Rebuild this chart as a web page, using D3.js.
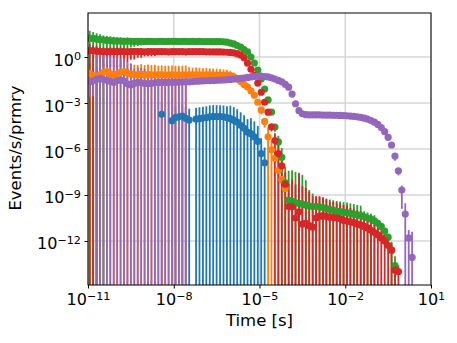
<!DOCTYPE html>
<html>
<head>
<meta charset="utf-8">
<script src="https://cdn.jsdelivr.net/npm/d3@7"></script>
<style>
  body { margin: 0; background: #fff; }
  svg { display: block; font-family: "DejaVu Sans", sans-serif; }
</style>
</head>
<body>
<svg id="chart" width="457" height="343"></svg>
<script>
(function () {

	// log10 of bin centre time [s]
	var timeExp = [
		-10.94,-10.82,-10.70,-10.58,-10.46,-10.34,-10.22,-10.10,-9.98,-9.86,
		-9.74,-9.62,-9.50,-9.38,-9.26,-9.14,-9.02,-8.90,-8.78,-8.66,
		-8.54,-8.42,-8.30,-8.18,-8.06,-7.94,-7.82,-7.70,-7.58,-7.46,
		-7.34,-7.22,-7.10,-6.98,-6.86,-6.74,-6.62,-6.50,-6.38,-6.26,
		-6.14,-6.02,-5.90,-5.78,-5.66,-5.54,-5.42,-5.30,-5.18,-5.06,
		-4.94,-4.82,-4.70,-4.58,-4.46,-4.34,-4.22,-4.10,-3.98,-3.86,
		-3.74,-3.62,-3.50,-3.38,-3.26,-3.14,-3.02,-2.90,-2.78,-2.66,
		-2.54,-2.42,-2.30,-2.18,-2.06,-1.94,-1.82,-1.70,-1.58,-1.46,
		-1.34,-1.22,-1.10,-0.98,-0.86,-0.74,-0.62,-0.50,-0.38,-0.26,
		-0.14,-0.02,0.10,0.22,0.34
	];

	// log10 of rate (events/s/primary), null = empty bin; err = relative error
	var blueStart = 21;
	var blueRate = [
		-3.74,null,null,-4.15,-3.95,-3.90,-3.85,-4.00,-4.11,null,
		-4.05,-4.02,-3.98,-3.95,-3.90,-3.88,-3.88,-3.88,-3.90,-3.95,
		-4.02,-4.12,-4.25,-4.45,-4.65,-4.90,-5.00,-5.20,-5.50,-6.30,
		-6.90
	];
	var blueErr = [
		5,null,null,4.5,4.5,4.5,4.5,4.5,4.5,null,
		4.5,4.5,4.5,4.5,4.5,4.5,4.5,4.5,4.5,4.5,
		6,6,6,6,6,6,9,9,9,9,
		9
	];

	var orangeStart = 0;
	var orangeRate = [
		-1.06,-1.20,-1.29,-1.15,-1.00,-0.96,-1.10,-1.20,-1.12,-1.00,
		-0.96,-1.05,-1.10,-1.15,-1.17,-1.12,-1.18,-1.15,-1.17,-1.16,
		-1.17,-1.15,-1.18,-1.17,-1.16,-1.17,-1.18,-1.17,-1.16,-1.17,
		-1.17,-1.16,-1.17,-1.18,-1.17,-1.17,-1.17,-1.18,-1.18,-1.19,
		-1.20,-1.22,-1.30,-1.42,-1.60,-1.80,-1.95,-2.20,-2.50,-2.95,
		-3.45,-4.20,-5.20,-6.05,-6.60,-7.40,-8.00,-8.57
	];
	// upper relative error
	var orangeErr = [
		3,3,3,3,3,3,3,3,3,3,
		3.5,3.5,3.5,3.5,3.5,3.5,3.5,3.5,3.5,3.5,
		3,3,3,3,3,3,3,3,3,2.2,
		2.0,2.0,1.9,1.8,1.8,1.7,1.6,1.6,1.5,1.4,
		1.3,1.1,0.9,0.7,0.5,0.5,0.5,0.5,0.5,0.5,
		0.5,0.6,3,3,0.5,0.5,0.5,0.5
	];
	// lower relative error
	var orangeErrLow = [
		3,3,3,3,3,3,3,3,3,3,
		3.5,3.5,3.5,3.5,3.5,3.5,3.5,3.5,3.5,3.5,
		3,3,3,3,3,3,3,3,3,0.3,
		0.3,0.3,0.3,0.3,0.3,0.3,0.3,0.3,0.3,0.3,
		0.3,0.3,0.3,0.3,0.3,0.3,0.3,0.3,0.3,0.3,
		0.5,0.6,3,3,0.5,0.5,0.5,0.5
	];

	var greenStart = 0;
	var greenRate = [
		1.24,1.21,1.17,1.14,1.11,1.09,1.07,1.05,1.04,1.03,
		1.02,1.03,1.02,1.01,1.02,1.02,1.01,1.02,1.02,1.01,
		1.02,1.02,1.01,1.02,1.02,1.02,1.01,1.02,1.02,1.01,
		1.02,1.01,1.02,1.01,1.01,1.01,1.00,1.00,1.00,0.99,
		0.97,0.91,0.85,0.75,0.65,0.49,0.33,0.00,-0.39,-0.85,
		-1.43,-2.09,-2.80,-3.59,-4.57,-5.54,-6.54,-8.20,-9.33,-9.39,
		-9.50,-9.55,-9.60,-9.65,-9.72,-9.75,-9.75,-9.78,-9.82,-9.88,
		-9.95,-10.00,-10.05,-10.08,-10.12,-10.15,-10.20,-10.25,-10.30,-10.35,
		-10.42,-10.50,-10.58,-10.68,-10.85,-11.05,-11.35,-11.75,-12.60,-13.60
	];
	var greenErr = [
		2.0,1.6,1.4,1.2,1.0,0.95,0.9,0.85,0.8,0.75,
		0.7,0.65,0.6,0.55,0.5,0.45,0.4,0.35,0.3,0.3,
		0.25,0.25,0.25,0.25,0.25,0.25,0.25,0.25,0.25,0.25,
		0.1,0.1,0.1,0.1,0.1,0.1,0.1,0.1,0.1,0.1,
		0.08,0.05,0.05,0.05,0.05,0.05,0.05,0.05,0.05,0.05,
		0.05,0.1,0.1,0.2,0.5,1.5,3,10,80,100,
		100,100,80,40,10,6,3.5,3.5,3.5,3.5,
		3.5,3.5,3.5,3.5,3.5,3.5,3.5,3.5,3.5,3.5,
		1.3,1.3,1.3,1.3,0.7,0.3,0.3,0.3,2.5,3
	];

	var redStart = 0;
	var redRate = [
		0.42,0.40,0.38,0.36,0.35,0.35,0.36,0.35,0.35,0.35,
		0.35,0.34,0.35,0.36,0.35,0.35,0.34,0.35,0.35,0.36,
		0.35,0.35,0.35,0.34,0.35,0.35,0.35,0.35,0.34,0.35,
		0.35,0.35,0.35,0.35,0.34,0.34,0.34,0.33,0.33,0.32,
		0.31,0.30,0.27,0.22,0.12,-0.05,-0.40,-0.80,-1.20,-1.70,
		-2.30,-2.95,-3.60,-4.55,-5.45,-6.30,-7.10,-8.30,-9.75,-9.77,
		-10.50,-10.10,-10.90,-10.85,-11.00,-11.10,-10.50,-10.40,-10.35,-10.40,
		-10.45,-10.45,-10.50,-10.55,-10.65,-10.70,-10.75,-10.80,-10.90,-10.95,
		-11.05,-11.15,-11.30,-11.45,-11.60,-11.80,-12.00,-12.30,-12.60,-13.90,
		-14.00
	];
	var redErr = [
		1.4,1.3,1.2,0.9,0.9,0.9,0.9,0.9,0.9,0.9,
		0.8,0.8,0.7,0.7,0.6,0.6,0.5,0.5,0.5,0.5,
		0.4,0.4,0.4,0.4,0.4,0.4,0.4,0.4,0.4,0.4,
		0.3,0.3,0.3,0.3,0.3,0.3,0.3,0.3,0.3,0.3,
		0.2,0.2,0.2,0.2,0.2,0.2,0.2,0.2,0.2,0.2,
		0.2,0.2,0.3,0.5,2,3,3,5,30,60,
		150,300,300,200,160,100,25,20,15,12,
		9,9,9,9,9,9,7,7,7,7,
		6,6,6,6,4,4,3,3,1.8,1.5,
		1.5
	];

	var purpleStart = 0;
	var purpleRate = [
		-1.63,-1.55,-1.45,-1.40,-1.47,-1.52,-1.58,-1.65,-1.55,-1.50,
		-1.55,-1.75,-1.83,-1.72,-1.65,-1.68,-1.72,-1.75,-1.72,-1.68,
		-1.66,-1.65,-1.66,-1.65,-1.64,-1.65,-1.64,-1.63,-1.62,-1.62,
		-1.60,-1.58,-1.57,-1.56,-1.55,-1.54,-1.53,-1.52,-1.51,-1.50,
		-1.48,-1.46,-1.44,-1.42,-1.40,-1.37,-1.33,-1.30,-1.27,-1.25,
		-1.25,-1.27,-1.30,-1.36,-1.44,-1.53,-1.62,-1.78,-1.97,-2.42,
		-3.05,-3.50,-3.70,-3.76,-3.78,-3.78,-3.78,-3.78,-3.79,-3.79,
		-3.79,-3.80,-3.80,-3.81,-3.82,-3.83,-3.85,-3.87,-3.90,-3.94,
		-3.99,-4.05,-4.14,-4.25,-4.40,-4.60,-4.87,-5.24,-5.74,-6.46,
		-7.42,-8.68,-10.24,-11.80,-13.07
	];
	var purpleErr = [
		0.9,0.9,35,40,40,38,42,40,40,25,
		25,25,25,8,8,8,8,3,3,3,
		3,1.1,1.1,1.1,1.1,1.1,1.1,1.1,1.1,0.3,
		0.3,0.3,0.3,0.3,0.3,0.3,0.3,0.3,0.3,0.3,
		0.3,0.3,0.3,0.3,0.3,0.3,0.3,0.3,0.3,0.3,
		0.3,0.3,0.3,0.3,0.3,0.3,0.3,0.3,0.3,0.3,
		0.3,0.3,0.3,0.3,0.3,0.3,0.3,0.3,0.3,0.3,
		0.3,0.3,0.3,0.3,0.3,0.3,0.3,0.3,0.3,0.3,
		0.3,0.3,0.3,0.3,0.3,0.3,0.3,0.3,0.3,0.5,
		0.5,0.94,4,2.3,46
	];

	var xTicks = [1e-11, 1e-8, 1e-5, 1e-2, 1e1];
	var yTicks = [1e-12, 1e-9, 1e-6, 1e-3, 1e0];

	var series = [
		{ color: "#1f77b4", start: blueStart, rate: blueRate, err: blueErr },
		{ color: "#ff7f0e", start: orangeStart, rate: orangeRate, err: orangeErr, errLow: orangeErrLow },
		{ color: "#2ca02c", start: greenStart, rate: greenRate, err: greenErr },
		{ color: "#d62728", start: redStart, rate: redRate, err: redErr },
		{ color: "#9467bd", start: purpleStart, rate: purpleRate, err: purpleErr }
	];

	var margin = {top: 13, right: 26, bottom: 58, left: 88};
	var svg = d3.select('#chart');
	var width = +svg.attr('width') - margin.left - margin.right;
	var height = +svg.attr('height') - margin.top - margin.bottom;

	var xScale = d3.scaleLog().domain([1e-11, 1e1]).range([0, width]);
	var yScale = d3.scaleLog().domain([Math.pow(10, -14.87), Math.pow(10, 2.87)]).range([height, 0]);

	var g = svg.append('g').attr('transform', 'translate(' + margin.left + ',' + margin.top + ')');

	svg.append('defs').append('clipPath').attr('id', 'plotclip')
		.append('rect').attr('width', width).attr('height', height);

	// grid
	g.append('g').attr('class', 'grid')
		.selectAll('line.gx').data(xTicks).enter().append('line')
		.attr('x1', d => xScale(d)).attr('x2', d => xScale(d))
		.attr('y1', 0).attr('y2', height);
	g.select('.grid')
		.selectAll('line.gy').data(yTicks).enter().append('line')
		.attr('x1', 0).attr('x2', width)
		.attr('y1', d => yScale(d)).attr('y2', d => yScale(d));
	g.selectAll('.grid line').attr('stroke', '#d6d6d6').attr('stroke-width', 1.5);

	// flatten points
	var points = [];
	series.forEach(function (s, si) {
		s.rate.forEach(function (r, i) {
			if (r === null) { return; }
			var v = Math.pow(10, r);
			var up = s.err[i];
			var down = s.errLow ? s.errLow[i] : up;
			points.push({
				series: si,
				color: s.color,
				t: Math.pow(10, timeExp[s.start + i]),
				v: v,
				hi: v + v * up,
				lo: v - v * down
			});
		});
	});

	var plot = g.append('g').attr('clip-path', 'url(#plotclip)');

	// error bars first (all series), then markers on top
	plot.append('g').selectAll('line').data(points).enter().append('line')
		.attr('x1', d => xScale(d.t)).attr('x2', d => xScale(d.t))
		.attr('y1', d => yScale(d.hi))
		.attr('y2', d => d.lo > 0 ? yScale(d.lo) : height + 2)
		.attr('stroke', d => d.color)
		.attr('stroke-width', 1.8);

	plot.append('g').selectAll('circle').data(points).enter().append('circle')
		.attr('cx', d => xScale(d.t))
		.attr('cy', d => yScale(d.v))
		.attr('r', 3.6)
		.attr('fill', d => d.color);

	// frame
	g.append('rect').attr('width', width).attr('height', height)
		.attr('fill', 'none').attr('stroke', '#000').attr('stroke-width', 1);

	function supLabel(sel) {
		sel.each(function (d) {
			var exp = Math.round(Math.log10(d));
			var t = d3.select(this).text(null);
			t.append('tspan').text('10');
			t.append('tspan').attr('dy', '-0.45em').attr('font-size', '0.7em')
				.text(String(exp).replace('-', '\u2212'));
		});
	}

	var xAxis = g.append('g').attr('transform', 'translate(0,' + height + ')')
		.call(d3.axisBottom(xScale).tickValues(xTicks).tickSize(3.5).tickPadding(3.5));
	var yAxis = g.append('g')
		.call(d3.axisLeft(yScale).tickValues(yTicks).tickSize(3.5).tickPadding(3.5));

	[xAxis, yAxis].forEach(function (a) {
		a.select('.domain').remove();
		a.selectAll('.tick line').attr('stroke', '#000');
		a.selectAll('.tick text').attr('fill', '#000')
			.attr('font-family', '"DejaVu Sans", sans-serif').attr('font-size', 16);
	});
	xAxis.selectAll('.tick text').attr('dy', null).attr('y', 20).call(supLabel);
	yAxis.selectAll('.tick text').attr('dy', null).attr('y', 8).attr('x', -7).call(supLabel);

	svg.append('text')
		.attr('x', margin.left + width / 2).attr('y', 325.5)
		.attr('text-anchor', 'middle').attr('font-size', 16.5)
		.text('Time [s]');

	svg.append('text')
		.attr('transform', 'translate(21,148) rotate(-90)')
		.attr('text-anchor', 'middle').attr('font-size', 16.5)
		.text('Events/s/prmry');
}());
</script>
</body>
</html>
